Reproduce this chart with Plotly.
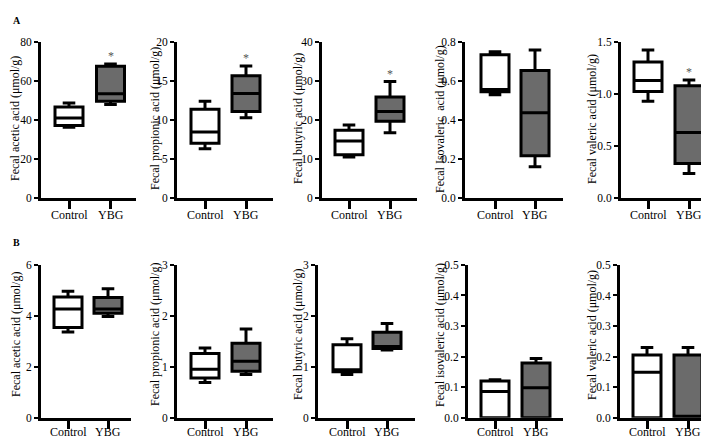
import plotly.graph_objects as go

# ---------------- data (five-number summaries: min, Q1, median, Q3, max) -------------
groups = ["Control", "YBG"]

A_acetic_ctrl = [36.3, 37.2, 41.0, 46.7, 48.7]
A_acetic_ybg = [48.0, 49.7, 53.5, 67.7, 68.8]
A_propionic_ctrl = [6.3, 7.0, 8.45, 11.4, 12.4]
A_propionic_ybg = [10.3, 11.1, 13.4, 15.7, 16.95]
A_butyric_ctrl = [10.5, 11.1, 14.6, 17.4, 18.7]
A_butyric_ybg = [16.7, 19.7, 22.2, 25.9, 29.9]
A_isovaleric_ctrl = [0.53, 0.545, 0.557, 0.735, 0.751]
A_isovaleric_ybg = [0.16, 0.216, 0.437, 0.654, 0.76]
A_valeric_ctrl = [0.93, 1.025, 1.13, 1.31, 1.425]
A_valeric_ybg = [0.235, 0.33, 0.63, 1.08, 1.135]

B_acetic_ctrl = [3.37, 3.54, 4.27, 4.74, 4.97]
B_acetic_ybg = [3.97, 4.10, 4.27, 4.72, 5.06]
B_propionic_ctrl = [0.69, 0.78, 0.95, 1.26, 1.37]
B_propionic_ybg = [0.85, 0.91, 1.11, 1.46, 1.74]
B_butyric_ctrl = [0.85, 0.90, 0.94, 1.43, 1.55]
B_butyric_ybg = [1.33, 1.36, 1.40, 1.68, 1.85]
B_isovaleric_ctrl = [0.0, 0.0, 0.086, 0.12, 0.1245]
B_isovaleric_ybg = [0.0, 0.0, 0.098, 0.179, 0.194]
B_valeric_ctrl = [0.0, 0.0, 0.149, 0.205, 0.23]
B_valeric_ybg = [0.0, 0.0, 0.005, 0.205, 0.23]

A_titles = ["Fecal acetic acid (μmol/g)", "Fecal propionic acid (μmol/g)",
            "Fecal butyric acid (μmol/g)", "Fecal Isovaleric  acid (μmol/g)",
            "Fecal valeric acid (μmol/g)"]
B_titles = ["Fecal acetic acid (μmol/g)", "Fecal propionic acid (μmol/g)",
            "Fecal butyric acid (μmol/g)", "Fecal isovaleric acid (μmol/g)",
            "Fecal valeric acid (μmol/g)"]
A_ymax = [80, 20, 40, 0.8, 1.5]
A_dtick = [20, 5, 10, 0.2, 0.5]
A_fmt = ["d", "d", "d", ".1f", ".1f"]
B_ymax = [6, 3, 3, 0.5, 0.5]
B_dtick = [2, 1, 1, 0.1, 0.1]
B_fmt = ["d", "d", "d", ".1f", ".1f"]
A_signif = [True, True, True, False, True]
B_signif = [False, False, False, False, False]

A_data = [(A_acetic_ctrl, A_acetic_ybg), (A_propionic_ctrl, A_propionic_ybg),
          (A_butyric_ctrl, A_butyric_ybg), (A_isovaleric_ctrl, A_isovaleric_ybg),
          (A_valeric_ctrl, A_valeric_ybg)]
B_data = [(B_acetic_ctrl, B_acetic_ybg), (B_propionic_ctrl, B_propionic_ybg),
          (B_butyric_ctrl, B_butyric_ybg), (B_isovaleric_ctrl, B_isovaleric_ybg),
          (B_valeric_ctrl, B_valeric_ybg)]

# ---------------- layout geometry (pixels) ----------------
W, H = 709, 439
FONT = "Liberation Serif"
fills = ["white", "#6b6b6b"]

rows = [
    dict(data=A_data, titles=A_titles, ymax=A_ymax, dtick=A_dtick, fmt=A_fmt, sig=A_signif,
         ytop=29, ybot=189, title_y=108, label_y=207,
         geo=[(33, 61, 102.5, 128), (169, 197, 238, 265), (314, 341, 382, 409),
              (457, 487, 527, 555), (613, 640, 681, 706)],
         title_x=[7, 147, 290, 432, 584]),
    dict(data=B_data, titles=B_titles, ymax=B_ymax, dtick=B_dtick, fmt=B_fmt, sig=B_signif,
         ytop=258, ybot=415, title_y=330, label_y=430,
         geo=[(33, 60, 100, 123), (169, 197, 238, 265), (310, 339, 379, 407),
              (460, 487, 528, 555), (612, 639, 680, 707)],
         title_x=[8, 147, 290, 432, 584]),
]

fig = go.Figure()
layout = {}
annotations = []
k = 0
for row in rows:
    for i in range(5):
        k += 1
        sfx = "" if k == 1 else str(k)
        xa, ya = "x" + sfx, "y" + sfx
        ax_x, cx, yx, ex = row["geo"][i]
        s = yx - cx
        xrange = [-(cx - ax_x) / s, 1 + (ex - yx) / s]
        box_w = 28 / s
        for g, vals, fill in zip(groups, row["data"][i], fills):
            fig.add_trace(go.Box(
                x=[g], lowerfence=[vals[0]], q1=[vals[1]], median=[vals[2]],
                q3=[vals[3]], upperfence=[vals[4]],
                fillcolor=fill, line=dict(color="black", width=3),
                width=box_w, whiskerwidth=0.45, boxpoints=False,
                showlegend=False, xaxis=xa, yaxis=ya, hoverinfo="skip"))
            if g == "YBG" and row["sig"][i]:
                annotations.append(dict(
                    x=g, y=vals[4] + 0.05 * row["ymax"][i], xref=xa, yref=ya,
                    text="*", showarrow=False, yanchor="middle",
                    font=dict(family=FONT, size=12, color="#555")))
            # category label under the tick
            annotations.append(dict(
                x=g, xref=xa, y=1 - row["label_y"] / H, yref="paper",
                text=g, showarrow=False, xanchor="center", yanchor="middle",
                borderpad=0, font=dict(family=FONT, size=12, color="black")))
        layout["xaxis" + sfx] = dict(
            domain=[ax_x / W, ex / W], anchor=ya, type="category",
            categoryorder="array", categoryarray=groups, range=xrange,
            showline=True, linewidth=3, linecolor="black", showgrid=False,
            zeroline=False, ticks="outside", ticklen=8, tickwidth=3,
            tickcolor="black", showticklabels=False)
        layout["yaxis" + sfx] = dict(
            domain=[1 - row["ybot"] / H, 1 - row["ytop"] / H], anchor=xa,
            range=[0, row["ymax"][i]], dtick=row["dtick"][i], tick0=0,
            tickformat=row["fmt"][i], showline=True, linewidth=3, linecolor="black",
            showgrid=False, zeroline=False, ticks="outside", ticklen=4, tickwidth=2,
            tickcolor="black", tickfont=dict(family=FONT, size=11.5, color="black"))
        annotations.append(dict(
            x=row["title_x"][i] / W, y=1 - row["title_y"] / H, xref="paper", yref="paper",
            text=row["titles"][i], textangle=-90, showarrow=False,
            xanchor="center", yanchor="middle",
            font=dict(family=FONT, size=12, color="black")))

annotations.append(dict(x=3 / W, y=1 - 7 / H, xref="paper", yref="paper", text="<b>A</b>",
                        showarrow=False, xanchor="left", yanchor="middle",
                        font=dict(family=FONT, size=10, color="black")))
annotations.append(dict(x=3 / W, y=1 - 235 / H, xref="paper", yref="paper", text="<b>B</b>",
                        showarrow=False, xanchor="left", yanchor="middle",
                        font=dict(family=FONT, size=10, color="black")))

fig.update_layout(
    width=W, height=H, autosize=False,
    margin=dict(l=0, r=0, t=0, b=0, pad=0),
    paper_bgcolor="white", plot_bgcolor="white",
    font=dict(family=FONT, color="black"),
    annotations=annotations, **layout)

fig.write_html("out.html")
